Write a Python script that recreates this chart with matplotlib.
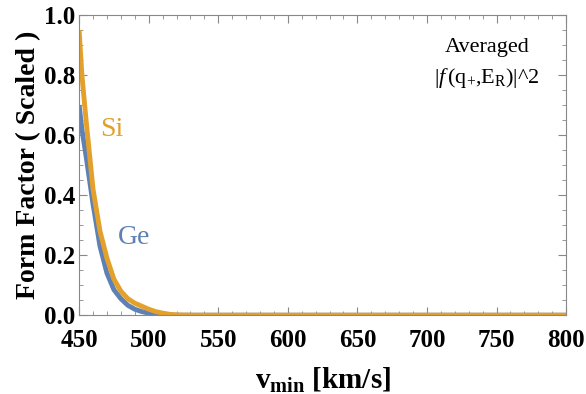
import matplotlib.pyplot as plt
from matplotlib.ticker import MultipleLocator

plt.rcParams['font.family'] = ['Liberation Serif', 'DejaVu Serif']
plt.rcParams['mathtext.fontset'] = 'custom'
plt.rcParams['mathtext.rm'] = 'Liberation Serif'
plt.rcParams['mathtext.it'] = 'Liberation Serif:italic'
plt.rcParams['mathtext.bf'] = 'Liberation Serif:bold'

v_si = [450, 452, 455, 460, 465, 470, 475, 480, 485, 490, 495, 500, 505, 510, 515, 520, 530, 800]
ff_si = [0.95, 0.80, 0.65, 0.42, 0.28, 0.19, 0.12, 0.08, 0.055, 0.04, 0.03, 0.02, 0.012, 0.007, 0.003, 0.001, 0.0, 0.0]
v_ge = [450, 452, 455, 460, 465, 470, 475, 480, 485, 490, 495, 500, 505, 510, 520, 800]
ff_ge = [0.70, 0.62, 0.53, 0.37, 0.23, 0.14, 0.085, 0.055, 0.033, 0.02, 0.012, 0.007, 0.003, 0.001, 0.0, 0.0]

c_si = '#E3A02A'
c_ge = '#5E81B5'

fig = plt.figure(figsize=(5.86, 3.94), dpi=100)
ax = fig.add_axes([0.135, 0.2, 0.831, 0.762])
ax.plot(v_ge, ff_ge, color=c_ge, lw=3.5, solid_capstyle='butt')
ax.plot(v_si, ff_si, color=c_si, lw=3.5, solid_capstyle='butt')
ax.set_xlim(450, 800)
ax.set_ylim(0, 1)
ax.xaxis.set_major_locator(MultipleLocator(50))
ax.xaxis.set_minor_locator(MultipleLocator(10))
ax.yaxis.set_major_locator(MultipleLocator(0.2))
ax.yaxis.set_minor_locator(MultipleLocator(0.05))
ax.yaxis.set_major_formatter(plt.FuncFormatter(lambda y, p: '%.1f' % y))
ax.tick_params(which='both', direction='in', top=True, right=True, color='#888888')
ax.tick_params(which='major', length=6, labelsize=18)
ax.tick_params(axis='x', which='major', pad=10)
ax.tick_params(axis='y', which='major', pad=3)
ax.tick_params(which='minor', length=3)
for lab in ax.get_xticklabels() + ax.get_yticklabels():
    lab.set_fontweight('bold')
for s in ax.spines.values():
    s.set_color('#888888')

ax.set_xlabel(r'$\mathbf{v_{min}}$ [km/s]', fontsize=21, fontweight='bold', labelpad=10)
ax.set_ylabel('Form Factor ( Scaled )', fontsize=20, fontweight='bold', labelpad=2)

ax.text(465, 0.62, 'Si', color=c_si, fontsize=20, va='center')
ax.text(478, 0.26, 'Ge', color=c_ge, fontsize=20, va='center')
ax.text(743, 0.893, 'Averaged', fontsize=16, ha='center', va='center')
ax.text(743, 0.79, r'|$f\,$(q$_{+}$,E$_{\rm R}$)|^2', fontsize=16, ha='center', va='center')

fig.savefig('out.png', dpi=100)
